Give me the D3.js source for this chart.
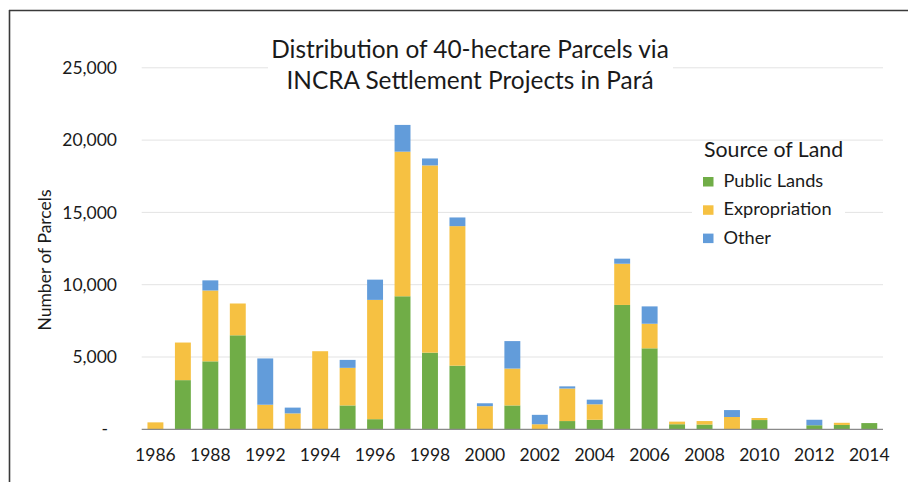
<!DOCTYPE html>
<html>
<head>
<meta charset="utf-8">
<script src="https://cdn.jsdelivr.net/npm/d3@7"></script>
<style>
  html, body { margin: 0; padding: 0; background: #fff; }
  #chart { width: 908px; height: 482px; }
</style>
</head>
<body>
<div id="chart"></div>
<script>
// data
const years = ["1986", "1987", "1988", "1989", "1992", "1993", "1994", "1995", "1996", "1997",
  "1998", "1999", "2000", "2001", "2002", "2003", "2004", "2005", "2006", "2007",
  "2008", "2009", "2010", "2011", "2012", "2013", "2014"];
const publicLands = [0, 3400, 4700, 6500, 0, 0, 0, 1650, 700, 9200,
  5300, 4400, 0, 1650, 0, 570, 660, 8600, 5600, 350,
  330, 0, 640, 0, 280, 300, 430];
const expropriation = [480, 2600, 4900, 2200, 1700, 1100, 5400, 2600, 8250, 10000,
  12950, 9650, 1600, 2550, 350, 2250, 1070, 2850, 1700, 180,
  240, 850, 140, 0, 0, 150, 0];
const other = [0, 0, 700, 0, 3200, 400, 0, 550, 1400, 1850,
  480, 600, 200, 1900, 650, 150, 320, 350, 1200, 0,
  0, 480, 0, 0, 380, 0, 0];
const seriesNames = ["Public Lands", "Expropriation", "Other"];
const yTicks = [0, 5000, 10000, 15000, 20000, 25000];
const titleLines = ["Distribution of 40-hectare Parcels via", "INCRA Settlement Projects in Pará"];

const colors = { "Public Lands": "#70AD47", "Expropriation": "#F6C142", "Other": "#629CDA" };
const font = "Lato, 'Open Sans', sans-serif";
const textColor = "#1a1a1a";

const width = 908;
const height = 482;
const plot = { left: 141.7, right: 883, top: 67.8, bottom: 429.3 };

const rows = years.map((y, i) => ({
  year: y,
  "Public Lands": publicLands[i],
  "Expropriation": expropriation[i],
  "Other": other[i]
}));
const stacked = d3.stack().keys(seriesNames)(rows);

const svg = d3.select("#chart")
  .append("svg")
  .attr("width", width)
  .attr("height", height)
  .style("background", "#fff");

// outer frame (top + left only, picture is cropped)
svg.append("line").attr("x1", 9).attr("x2", width).attr("y1", 10.5).attr("y2", 10.5)
  .attr("stroke", "#3a3a3a").attr("stroke-width", 1.6);
svg.append("line").attr("x1", 9.5).attr("x2", 9.5).attr("y1", 10).attr("y2", height)
  .attr("stroke", "#3a3a3a").attr("stroke-width", 1.6);

const x = d3.scaleBand()
  .domain(years)
  .range([plot.left, plot.right])
  .paddingInner(0.42)
  .paddingOuter(0.21);

const y = d3.scaleLinear()
  .domain([0, 25000])
  .range([plot.bottom, plot.top]);

// gridlines
svg.append("g")
  .selectAll("line")
  .data(yTicks.filter(d => d > 0))
  .join("line")
  .attr("x1", plot.left)
  .attr("x2", plot.right)
  .attr("y1", d => y(d))
  .attr("y2", d => y(d))
  .attr("stroke", "#e3e3e3")
  .attr("stroke-width", 1);

// y tick labels
svg.append("g")
  .selectAll("text")
  .data(yTicks)
  .join("text")
  .attr("x", d => d === 0 ? 108 : 117)
  .attr("y", d => y(d))
  .attr("dy", "0.35em")
  .attr("text-anchor", "end")
  .attr("fill", textColor)
  .attr("font-family", font)
  .attr("font-size", 17.5)
  .text(d => d === 0 ? "-" : d3.format(",")(d));

// bars
svg.append("g")
  .selectAll("g")
  .data(stacked)
  .join("g")
  .attr("fill", d => colors[d.key])
  .selectAll("rect")
  .data(d => d.filter(p => p[1] - p[0] > 0))
  .join("rect")
  .attr("x", d => x(d.data.year))
  .attr("width", x.bandwidth())
  .attr("y", d => y(d[1]))
  .attr("height", d => y(d[0]) - y(d[1]));

// baseline
svg.append("line")
  .attr("x1", plot.left).attr("x2", plot.right)
  .attr("y1", y(0)).attr("y2", y(0))
  .attr("stroke", "#8a8a8a").attr("stroke-width", 1.2);

// x labels, every other category
svg.append("g")
  .selectAll("text")
  .data(years.filter((d, i) => i % 2 === 0))
  .join("text")
  .attr("x", d => x(d) + x.bandwidth() / 2)
  .attr("y", 461)
  .attr("text-anchor", "middle")
  .attr("fill", textColor)
  .attr("font-family", font)
  .attr("font-size", 17.5)
  .text(d => d);

// y axis title
svg.append("text")
  .attr("transform", "translate(51,260) rotate(-90)")
  .attr("text-anchor", "middle")
  .attr("fill", textColor)
  .attr("font-family", font)
  .attr("font-size", 17.5)
  .text("Number of Parcels");

// chart title with white box
svg.append("rect")
  .attr("x", 268).attr("y", 34).attr("width", 405).attr("height", 66)
  .attr("fill", "#fff");
svg.append("g")
  .selectAll("text")
  .data(titleLines)
  .join("text")
  .attr("x", 470)
  .attr("y", (d, i) => 57.7 + i * 31.3)
  .attr("text-anchor", "middle")
  .attr("fill", textColor)
  .attr("font-family", font)
  .attr("font-size", 24.4)
  .text(d => d);

// legend
const legend = svg.append("g");
legend.append("rect")
  .attr("x", 692).attr("y", 143).attr("width", 153).attr("height", 110)
  .attr("fill", "#fff");
legend.append("text")
  .attr("x", 704)
  .attr("y", 157)
  .attr("fill", textColor)
  .attr("font-family", font)
  .attr("font-size", 21.3)
  .text("Source of Land");

const items = legend.selectAll("g.item")
  .data(seriesNames)
  .join("g")
  .attr("class", "item")
  .attr("transform", (d, i) => `translate(703,${187 + i * 28.3})`);
items.append("rect")
  .attr("x", 0).attr("y", -10).attr("width", 10.5).attr("height", 9.5)
  .attr("fill", d => colors[d]);
items.append("text")
  .attr("x", 20.5)
  .attr("y", 0)
  .attr("fill", textColor)
  .attr("font-family", font)
  .attr("font-size", 18.2)
  .text(d => d);
</script>
</body>
</html>
